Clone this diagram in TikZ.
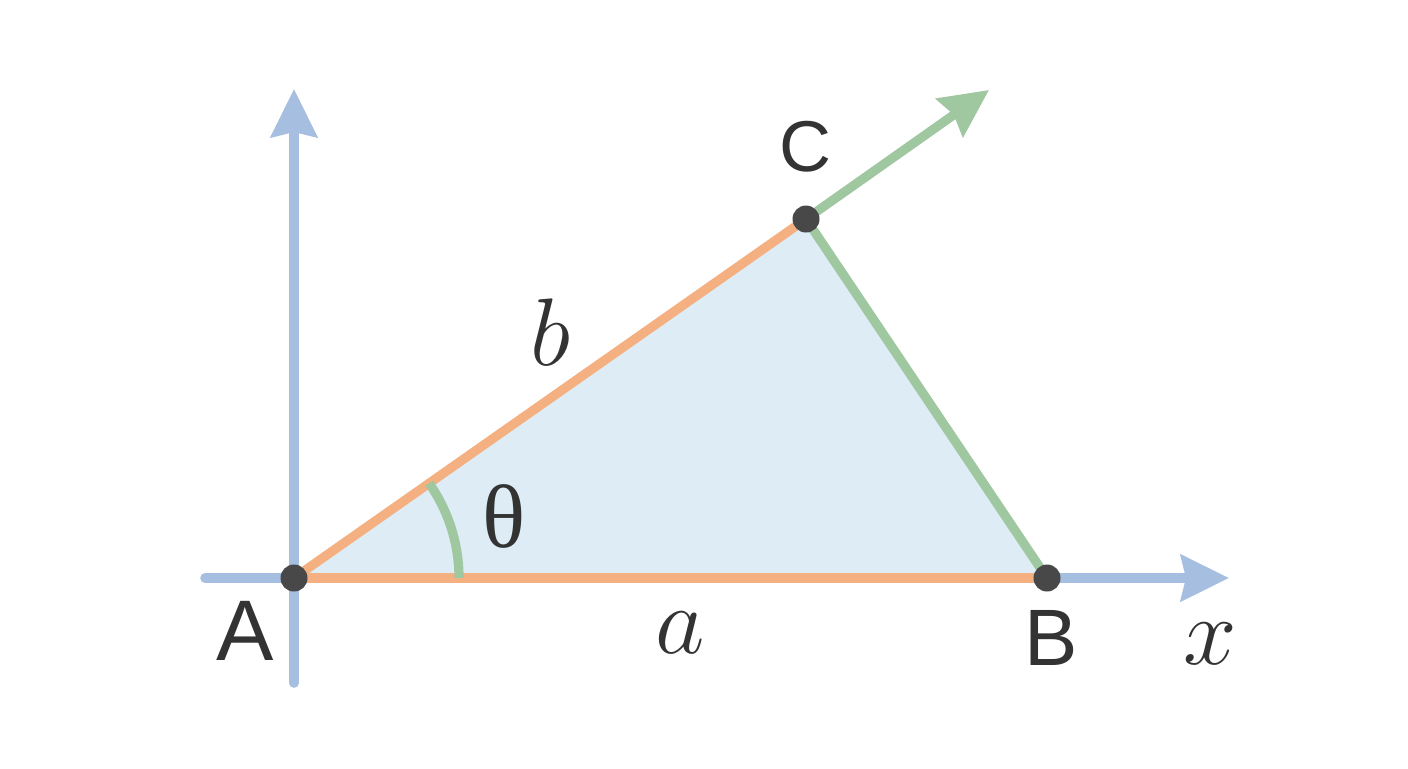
\RequirePackage{fix-cm}
\documentclass[tikz,border=0pt]{standalone}
\usepackage{fontspec}
\setmainfont{Liberation Serif}
\newfontfamily\lsans{Liberation Sans}
\usetikzlibrary{arrows.meta}
\definecolor{axisblue}{HTML}{A6BEE0}
\definecolor{sideorange}{HTML}{F4B080}
\definecolor{sidegreen}{HTML}{A0C8A0}
\definecolor{trifill}{HTML}{DEECF6}
\definecolor{dotgray}{HTML}{484848}
\definecolor{txt}{HTML}{333333}
\tikzset{
  axisline/.style={draw=axisblue, line width=4.8pt, line cap=round},
  sideline/.style={line width=4.6pt, line cap=round},
  bigtip/.style={-{Stealth[length=24pt, width=23pt, inset=2.5pt]}},
  vertex/.style={circle, fill=dotgray, minimum size=13.5pt, inner sep=0pt},
  ptlabel/.style={text=txt, inner sep=0pt},
  varlabel/.style={text=txt, inner sep=0pt, font=\fontsize{48}{52}\selectfont},
}
\begin{document}
\begin{tikzpicture}[x=0.5pt, y=-0.5pt]
\useasboundingbox[fill=white] (0,0) rectangle (1408,768);
% points
\coordinate (A) at (294,578);
\coordinate (B) at (1047,578);
\coordinate (C) at (806,219);
\coordinate (ytop) at (294,89);
\coordinate (ybot) at (294,683);
\coordinate (xleft) at (205,578);
\coordinate (xright) at (1229,578);
\coordinate (ctip) at (989,90);
\coordinate (arcstart) at (459,578);
% triangle fill
\fill[trifill] (A) -- (B) -- (C) -- cycle;
% axes
\draw[axisline, bigtip] (ybot) -- (ytop);
\draw[axisline, bigtip] (xleft) -- (xright);
% sides
\draw[sideline, draw=sideorange] (A) -- (B);
\draw[sideline, draw=sideorange] (A) -- (C);
\draw[sideline, draw=sidegreen] (C) -- (B);
\draw[sideline, draw=sidegreen, bigtip] (C) -- (ctip);
% angle arc
\draw[sideline, draw=sidegreen, line cap=butt] (arcstart) arc[start angle=0, end angle=-35.04, radius=165];
% vertices
\node[vertex] (vA) at (A) {};
\node[vertex] (vB) at (B) {};
\node[vertex] (vC) at (C) {};
% labels
\node[ptlabel, font=\lsans\fontsize{43}{46}\selectfont] (lA) at (245,631) {A};
\node[ptlabel, font=\lsans\fontsize{40}{44}\selectfont] (lB) at (1051,638) {B};
\node[ptlabel, font=\lsans\fontsize{36}{40}\selectfont] (lC) at (805,147) {C};
\node[varlabel] (lx) at (1210,644) {$x$};
\node[varlabel] (la) at (680,633) {$a$};
\node[varlabel] (lb) at (550,332) {$b$};
\node[ptlabel, font=\fontsize{45}{48}\selectfont] (lt) at (504,516) {θ};
\end{tikzpicture}
\end{document}
